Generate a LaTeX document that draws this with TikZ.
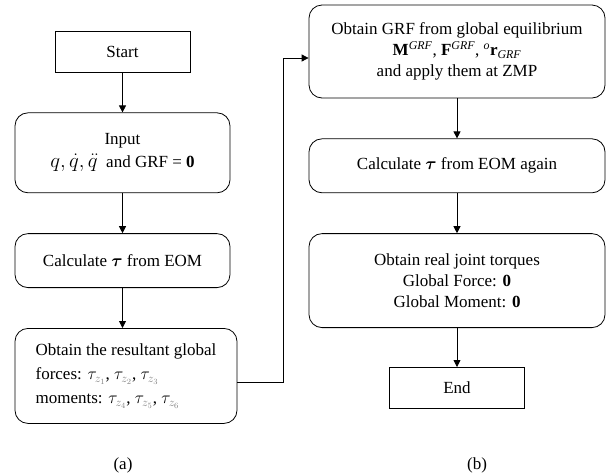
\documentclass[tikz,border=0pt]{standalone}
\usepackage{amsmath,amssymb,bm}
\usepackage{fontspec}
\setmainfont{Liberation Serif}
\usetikzlibrary{arrows.meta,positioning}

\begin{document}
\begin{tikzpicture}[
    x=1pt, y=1pt,
    node distance=40pt,
    font=\fontsize{17}{21}\selectfont,
    box/.style={rectangle, draw, line width=0.8pt, align=center, inner sep=0pt},
    roundbox/.style={box, rounded corners=13pt},
    arrow/.style={line width=0.8pt, -{Triangle[length=7pt,width=7pt]}}
]

\useasboundingbox (0,0) rectangle (609,-475);

% Nodes, part (a)
\node[box, minimum width=135pt, minimum height=41pt] (start) at (122.5,-51.5) {Start};

\node[roundbox, below=of start, minimum width=215pt, minimum height=80pt] (input) {Input\\[2pt]
{\fontsize{22}{24}\selectfont$q,\dot{q},\ddot{q}$}\enspace and GRF = \textbf{0}};

\node[roundbox, below=of input, minimum width=215pt, minimum height=54pt] (calc) {Calculate $\boldsymbol{\tau}$ from EOM};

\node[roundbox, below=of calc.south west, anchor=north west, minimum width=222pt, minimum height=95pt, align=left] (result) {Obtain the resultant global\\[3pt]
forces: $\tau_{\textcolor{gray}{z_1}}$, $\tau_{\textcolor{gray}{z_2}}$, $\tau_{\textcolor{gray}{z_3}}$\\[3pt]
moments: $\tau_{\textcolor{gray}{z_4}}$, $\tau_{\textcolor{gray}{z_5}}$, $\tau_{\textcolor{gray}{z_6}}$};

% Nodes, part (b)
\node[roundbox, minimum width=296pt, minimum height=93pt] (grf) at (457,-51.5) {Obtain GRF from global equilibrium\\
\textbf{M}\textsuperscript{\textit{GRF}}, \textbf{F}\textsuperscript{\textit{GRF}}, \textsuperscript{\textit{o}}\textbf{r}$_{\textit{GRF}}$\\
and apply them at ZMP};

\node[roundbox, below=of grf, minimum width=296pt, minimum height=54pt] (again) {Calculate $\boldsymbol{\tau}$ from EOM again};

\node[roundbox, below=of again, minimum width=296pt, minimum height=94pt] (real) {Obtain real joint torques\\
Global Force: \textbf{0}\\
Global Moment: \textbf{0}};

\node[box, below=39pt of real, minimum width=135pt, minimum height=41pt] (end) {End};

% Captions
\node (capa) at (123,-465) {(a)};
\node (capb) at (477,-465) {(b)};

% Connectors
\draw[arrow] (start) -- (input);
\draw[arrow] (input) -- (calc);
\draw[arrow] (calc.south) -- (calc.south |- result.north);
\draw[arrow] ([yshift=-6.5pt]result.east) -- ++(46,0) |- ([yshift=-6.5pt]grf.west);
\draw[arrow] (grf) -- (again);
\draw[arrow] (again) -- (real);
\draw[arrow] (real) -- (end);

\end{tikzpicture}
\end{document}
